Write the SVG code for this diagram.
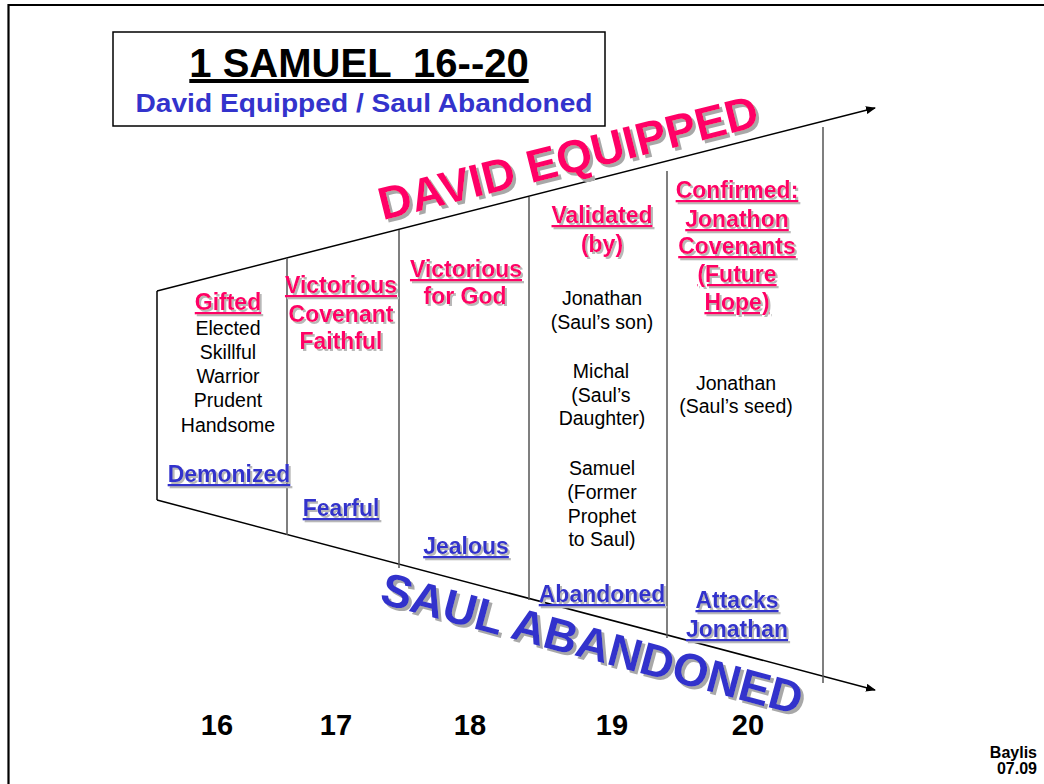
<svg xmlns="http://www.w3.org/2000/svg" width="1044" height="784" viewBox="0 0 1044 784">
  <defs>
    <style>
      text { font-family: "Liberation Sans", Arial, Helvetica, sans-serif; text-anchor: middle; }
      .bold { font-weight: bold; }
      .pink { fill: #ff0066; font-weight: bold; font-size: 23px; }
      .blue { fill: #3333cc; font-weight: bold; font-size: 23px; }
      .ul { text-decoration: underline; }
      .plain { fill: #000; font-size: 19.5px; }
      .num { fill: #000; font-weight: bold; font-size: 29px; }
      .axis { stroke: #000; stroke-width: 1.5; fill: none; }
      .divider { stroke: #555; stroke-width: 1.5; fill: none; }
    </style>
    <marker id="arrow" viewBox="0 0 10 8" refX="9" refY="4" markerWidth="10" markerHeight="8" markerUnits="userSpaceOnUse" orient="auto">
      <path d="M0,0 L10,4 L0,8 Z" fill="#000"/>
    </marker>
    <filter id="shadowBig" x="-5%" y="-20%" width="115%" height="150%">
      <feOffset in="SourceAlpha" dx="2.5" dy="2.5" result="off"/>
      <feFlood flood-color="#a8a8a8"/>
      <feComposite in2="off" operator="in" result="sh"/>
      <feMerge><feMergeNode in="sh"/><feMergeNode in="SourceGraphic"/></feMerge>
    </filter>
    <filter id="shadowSmall" x="-5%" y="-20%" width="115%" height="150%">
      <feOffset in="SourceAlpha" dx="1.5" dy="1.5" result="off"/>
      <feFlood flood-color="#b8b8b8"/>
      <feComposite in2="off" operator="in" result="sh"/>
      <feMerge><feMergeNode in="sh"/><feMergeNode in="SourceGraphic"/></feMerge>
    </filter>
  </defs>

  <rect width="1044" height="784" fill="#fff"/>

  <!-- slide frame -->
  <path d="M8.5,784 L8.5,5 L1044,5" stroke="#000" stroke-width="2.2" fill="none"/>

  <!-- title block -->
  <g id="title">
    <rect x="113" y="32" width="492" height="94" fill="#fff" stroke="#000" stroke-width="1.5"/>
    <text x="359" y="77" class="bold ul" font-size="40" fill="#000" xml:space="preserve">1 SAMUEL  16--20</text>
    <text x="364" y="112" class="bold" font-size="26" fill="#3333cc" textLength="457" lengthAdjust="spacingAndGlyphs">David Equipped / Saul Abandoned</text>
  </g>

  <!-- timeline funnel and chapter dividers -->
  <g id="connectors">
    <line class="axis" x1="157" y1="291" x2="875" y2="108" marker-end="url(#arrow)"/>
    <line class="axis" x1="157" y1="500" x2="875" y2="690" marker-end="url(#arrow)"/>
    <line class="axis" x1="157" y1="291" x2="157" y2="500"/>
    <line class="divider" x1="287" y1="258" x2="287" y2="535"/>
    <line class="divider" x1="399" y1="230" x2="399" y2="568"/>
    <line class="divider" x1="529" y1="197" x2="529" y2="600"/>
    <line class="divider" x1="667" y1="171" x2="667" y2="638"/>
    <line class="divider" x1="823" y1="127" x2="823" y2="683"/>
  </g>

  <!-- banner labels along the funnel -->
  <g id="david-equipped" filter="url(#shadowBig)">
    <text transform="translate(572,173) rotate(-14)" class="bold" font-size="46" fill="#ff0066">DAVID EQUIPPED</text>
  </g>
  <g id="saul-abandoned" filter="url(#shadowBig)">
    <text transform="translate(588,659) rotate(15)" class="bold" font-size="46" fill="#3333cc">SAUL ABANDONED</text>
  </g>

  <!-- chapter 16 -->
  <g id="ch16">
    <g filter="url(#shadowSmall)">
      <text x="228" y="310" class="pink ul">Gifted</text>
      <text x="229" y="482" class="blue ul">Demonized</text>
    </g>
    <text x="228" y="335" class="plain">Elected</text>
    <text x="228" y="359" class="plain">Skillful</text>
    <text x="228" y="383" class="plain">Warrior</text>
    <text x="228" y="407" class="plain">Prudent</text>
    <text x="228" y="432" class="plain">Handsome</text>
  </g>

  <!-- chapter 17 -->
  <g id="ch17" filter="url(#shadowSmall)">
    <text x="341" y="293" class="pink ul">Victorious</text>
    <text x="341" y="322" class="pink">Covenant</text>
    <text x="341" y="349" class="pink">Faithful</text>
    <text x="341" y="516" class="blue ul">Fearful</text>
  </g>

  <!-- chapter 18 -->
  <g id="ch18" filter="url(#shadowSmall)">
    <text x="466" y="277" class="pink ul">Victorious</text>
    <text x="465" y="304" class="pink">for God</text>
    <text x="466" y="554" class="blue ul">Jealous</text>
  </g>

  <!-- chapter 19 -->
  <g id="ch19">
    <g filter="url(#shadowSmall)">
      <text x="602" y="223" class="pink ul">Validated</text>
      <text x="602" y="252" class="pink">(by)</text>
      <text x="602" y="602" class="blue ul">Abandoned</text>
    </g>
    <text x="602" y="305" class="plain">Jonathan</text>
    <text x="602" y="329" class="plain">(Saul’s son)</text>
    <text x="601" y="378" class="plain">Michal</text>
    <text x="601" y="402" class="plain">(Saul’s</text>
    <text x="602" y="425" class="plain">Daughter)</text>
    <text x="602" y="475" class="plain">Samuel</text>
    <text x="602" y="499" class="plain">(Former</text>
    <text x="602" y="523" class="plain">Prophet</text>
    <text x="602" y="546" class="plain">to Saul)</text>
  </g>

  <!-- chapter 20 -->
  <g id="ch20">
    <g filter="url(#shadowSmall)">
      <text x="737" y="198" class="pink ul">Confirmed:</text>
      <text x="737" y="227" class="pink ul">Jonathon</text>
      <text x="737" y="254" class="pink ul">Covenants</text>
      <text x="737" y="282" class="pink ul">(Future</text>
      <text x="737" y="310" class="pink ul">Hope)</text>
      <text x="737" y="608" class="blue ul">Attacks</text>
      <text x="737" y="637" class="blue ul">Jonathan</text>
    </g>
    <text x="736" y="390" class="plain">Jonathan</text>
    <text x="736" y="413" class="plain">(Saul’s seed)</text>
  </g>

  <!-- chapter numbers -->
  <g id="chapters">
    <text x="217" y="735" class="num">16</text>
    <text x="336" y="735" class="num">17</text>
    <text x="470" y="735" class="num">18</text>
    <text x="612" y="735" class="num">19</text>
    <text x="748" y="735" class="num">20</text>
  </g>

  <!-- author / date -->
  <g id="credit">
    <text x="1037" y="758" class="bold" font-size="16" fill="#000" style="text-anchor:end">Baylis</text>
    <text x="1037" y="774" class="bold" font-size="16" fill="#000" style="text-anchor:end">07.09</text>
  </g>
</svg>
